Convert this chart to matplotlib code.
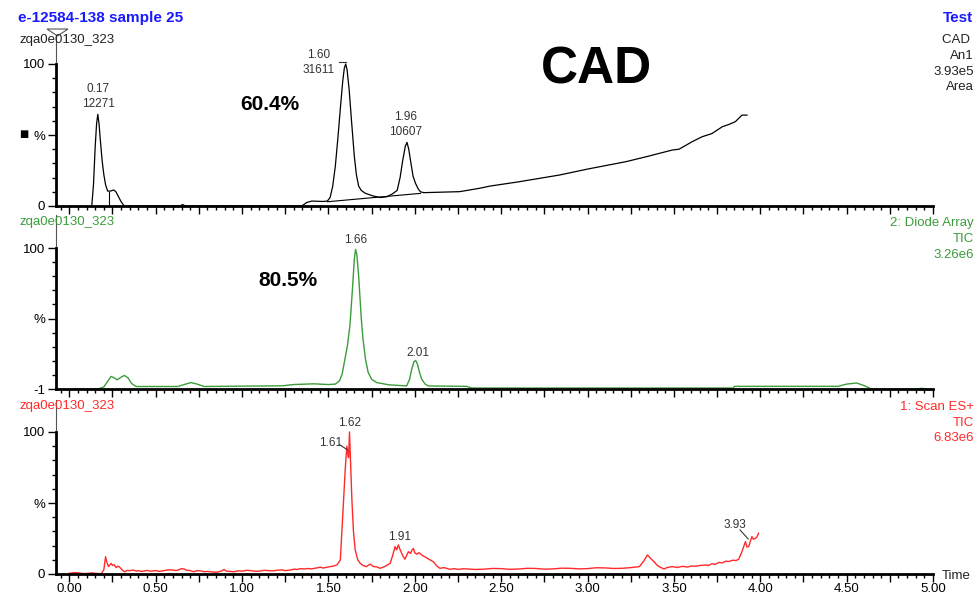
import numpy as np
import matplotlib
matplotlib.use("Agg")
import matplotlib.pyplot as plt
from matplotlib.ticker import MultipleLocator, FixedLocator, FuncFormatter
from matplotlib.patches import Polygon

plt.rcParams['font.family'] = ['Liberation Sans', 'DejaVu Sans']

# ---------------- data ----------------
# Panel 1: CAD trace (time in min, % of max)
cad_t = [0.13, 0.14, 0.15, 0.158, 0.165, 0.172, 0.18, 0.19, 0.20, 0.21, 0.222, 0.238,
         0.257, 0.27, 0.285, 0.30, 0.318,
         0.64, 0.656, 0.672, 1.345, 1.375, 1.405, 1.44, 1.47, 1.494, 1.51, 1.525, 1.54,
         1.555, 1.57, 1.583, 1.592, 1.60, 1.608, 1.62, 1.635, 1.65, 1.662, 1.675, 1.69,
         1.713, 1.76, 1.80, 1.838, 1.87, 1.898, 1.915, 1.93, 1.945, 1.955, 1.965, 1.978,
         1.99, 2.004, 2.02, 2.033, 2.052, 2.26, 2.376, 2.434, 2.60,
         2.837, 3.0, 3.222, 3.35, 3.49, 3.53, 3.606, 3.664, 3.72, 3.78, 3.82, 3.856,
         3.894, 3.923]
cad_v = [0, 15, 42, 58, 64.6, 58, 46, 32, 22, 15, 10.5, 10.5,
         11.3, 10, 6.5, 3, 0,
         0, 1, 0, 0, 2.5, 3.5, 3.3, 3.2, 3.5, 6, 14, 28,
         48, 70, 88, 97, 100, 96, 82, 58, 35, 22, 14, 11,
         9, 7, 6, 6.5, 8.5, 11, 20, 32, 42, 44.8, 40, 30,
         21, 16, 12, 10, 9.4, 10.1, 12.5, 14, 17,
         21.8, 26, 31.2, 35, 39.4, 40, 45.3, 48.8, 51, 55.8, 57.5, 59.4,
         64, 64]
# integration baselines / drop line in panel 1
cad_base_t = [1.494, 2.033]
cad_base_v = [3.0, 8.9]
cad_drop_t = [0.228, 0.228]
cad_drop_v = [0, 10]

# Panel 2: Diode Array TIC
dad_t = [0.02, 0.17, 0.20, 0.225, 0.242, 0.26, 0.277, 0.30, 0.319, 0.34, 0.36, 0.386,
         0.627, 0.66, 0.704, 0.74, 0.78, 1.232, 1.30, 1.415, 1.50, 1.54, 1.565, 1.58,
         1.595, 1.61, 1.625, 1.64, 1.65, 1.657, 1.665, 1.675, 1.69, 1.70, 1.715, 1.73,
         1.75, 1.78, 1.85, 1.953, 1.97, 1.982, 1.995, 2.005, 2.015, 2.027, 2.04, 2.06,
         2.078, 2.30, 2.33, 3.845, 3.85, 4.45, 4.50, 4.557, 4.60, 4.644, 4.90, 4.933, 4.96]
dad_v = [-1, -0.8, 0.5, 5, 8, 7, 5.6, 7.5, 8.7, 7, 3, 0.8,
         0.8, 2, 3.6, 2.5, 0.8, 1.3, 2.2, 2.7, 2.2, 2.5, 5, 10,
         20, 30, 45, 72, 92, 99, 95, 80, 50, 35, 20, 11,
         6, 3.6, 2, 1.2, 6, 13, 18.5, 19.4, 17, 11, 6, 2.5,
         1.2, 0.9, -0.3, -0.3, 0.9, 0.9, 2.5, 3.3, 1.5, -1, -1, -0.5, -1]

# Panel 3: Scan ES+ TIC
ms_t = [0.0, 0.03, 0.05, 0.08, 0.10, 0.13, 0.15, 0.185, 0.20, 0.21, 0.218, 0.227, 0.235,
        0.242, 0.25, 0.26, 0.271, 0.28, 0.29, 0.305, 0.319, 0.335, 0.348, 0.37, 0.39,
        0.40, 0.42, 0.45, 0.47, 0.50, 0.52, 0.55, 0.57, 0.60, 0.62, 0.635, 0.65, 0.665,
        0.68, 0.70, 0.72, 0.74, 0.76, 0.78, 0.80, 0.83, 0.85, 0.88, 0.896, 0.91, 0.93,
        0.953, 0.98, 1.0, 1.03, 1.05, 1.08, 1.10, 1.13, 1.15, 1.18, 1.20, 1.23, 1.25,
        1.28, 1.30, 1.32, 1.34, 1.36, 1.38, 1.40, 1.43, 1.453, 1.47, 1.50, 1.53,
        1.55, 1.569, 1.578, 1.588, 1.598, 1.607, 1.614, 1.617, 1.622, 1.628, 1.636, 1.645,
        1.655, 1.67, 1.684, 1.70, 1.72, 1.742, 1.76, 1.78, 1.80, 1.83, 1.857, 1.872, 1.886,
        1.895, 1.905, 1.912, 1.92, 1.93, 1.943, 1.953, 1.963, 1.975, 1.985, 1.992, 2.0,
        2.01, 2.025, 2.04, 2.06, 2.08, 2.107, 2.125, 2.145, 2.17, 2.203, 2.23, 2.25, 2.28,
        2.30, 2.35, 2.40, 2.45, 2.50, 2.55, 2.60, 2.65, 2.70, 2.75, 2.80, 2.85, 2.90,
        2.95, 3.00, 3.05, 3.10, 3.15, 3.20, 3.25, 3.30, 3.325, 3.347, 3.365,
        3.385, 3.40, 3.414, 3.443, 3.46, 3.49, 3.52, 3.55, 3.58, 3.60, 3.63, 3.65, 3.683,
        3.70, 3.72, 3.74, 3.76, 3.78, 3.80, 3.82, 3.84, 3.86, 3.875, 3.894, 3.914, 3.923,
        3.933, 3.945, 3.952, 3.96, 3.97, 3.98, 3.99]
ms_v = [0.5, 1.0, 0.8, 0.3, 0.3, 0.8, 0.5, 0.2, 3, 12.2, 8, 5.2, 6.5,
        7.5, 6, 6.5, 4.5, 5.5, 5, 3, 1.6, 2.5, 2.3, 2.8, 2.0,
        2.4, 1.8, 2.5, 2.0, 2.4, 1.9, 2.4, 2.9, 2.8, 2.4, 3, 3.8, 3.5,
        2.6, 2.4, 1.6, 2.4, 2.2, 1.6, 1.8, 1.4, 1.2, 2.0, 3.2, 2.0, 1.8,
        1.6, 2.3, 2.0, 2.6, 2.3, 1.9, 2.0, 2.6, 2.4, 2.2, 2.6, 2.9, 2.4,
        2.8, 3.4, 3.2, 3.8, 3.5, 3.9, 3.6, 4.2, 4.8, 4.2, 5.0, 5.6,
        6.5, 9.9, 30, 52, 75, 90, 83, 82, 100, 80, 52, 30,
        17, 10, 7.5, 6, 5.2, 7, 5.3, 5, 4, 5.5, 7.5, 13, 19.3,
        17, 20.5, 18, 15.7, 13, 10.4, 13, 15.7, 14.5, 17, 18, 15,
        14, 15, 13.4, 12, 10.5, 8.7, 6, 4, 4.5, 3.3, 3.8, 3.2, 3.7,
        3.6, 3.2, 3.4, 3.9, 3.8, 3.3, 3.5, 4.0, 3.9, 3.4, 3.6, 4.1, 4.0,
        3.6, 3.8, 4.4, 4.3, 3.9, 4.0, 4.5, 5.2, 9, 13.4, 11,
        8.7, 6.5, 5.2, 3.5, 4.5, 5.2, 4.6, 5.4, 4.9, 5.6, 5.5, 6.0, 6.3,
        6.0, 7.2, 6.8, 8.2, 7.8, 9, 8.8, 9.7, 9.5, 10.4, 15.7, 22.8, 19,
        19.3, 24, 26.3, 24.5, 25, 26, 28.7]

# peak labels
cad_labels = [("0.17", 0.167, 82.4), ("12271", 0.167, 71.8),
              ("1.60", 1.445, 106.3), ("31611", 1.445, 95.8),
              ("1.96", 1.948, 62.7), ("10607", 1.948, 52.1)]
dad_labels = [("1.66", 1.657, 105.7), ("2.01", 2.016, 24.8)]
ms_labels = [("1.62", 1.622, 106.6), ("1.61", 1.51, 92.4),
             ("1.91", 1.91, 26.1), ("3.93", 3.855, 34.6)]

xticklabels_vals = [0.0, 0.5, 1.0, 1.5, 2.0, 2.5, 3.0, 3.5, 4.0, 4.5, 5.0]

# ---------------- figure ----------------
W, H = 975, 595
fig = plt.figure(figsize=(W / 100, H / 100), dpi=100)
fig.patch.set_facecolor('white')

def fx(px):
    return px / W

def fy(py):
    return 1 - py / H

XL = (-0.077, 5.0)
ax_left = 56
ax_right = 933

def make_ax(top_px, bot_px, ylo, yhi):
    ax = fig.add_axes([fx(ax_left), fy(bot_px), (ax_right - ax_left) / W, (bot_px - top_px) / H])
    ax.set_xlim(*XL)
    ax.set_ylim(ylo, yhi)
    ax.patch.set_alpha(0)
    for s in ['top', 'right']:
        ax.spines[s].set_visible(False)
    ax.spines['left'].set_linewidth(2)
    ax.spines['bottom'].set_linewidth(2)
    ax.xaxis.set_major_locator(MultipleLocator(0.25))
    ax.xaxis.set_minor_locator(MultipleLocator(0.05))
    ax.tick_params(axis='both', which='major', direction='out', length=6, width=1, labelsize=9.5, pad=2)
    ax.tick_params(axis='both', which='minor', direction='out', length=3, width=1)
    return ax

GRAY = '#333333'
GREEN = '#3c9c3c'
RED = '#ff2a2a'

# Panel 1
ax1 = make_ax(30, 206, 0, 176 / 1.42)
ax1.plot(cad_t, cad_v, color='black', lw=0.9)
ax1.plot(cad_base_t, cad_base_v, color='black', lw=0.8)
ax1.plot(cad_drop_t, cad_drop_v, color='black', lw=0.8)
ax1.spines['left'].set_bounds(0, 100)
ax1.plot([XL[0], XL[0]], [100, 176 / 1.42 - 4], color='#555555', lw=0.8, clip_on=False)
ax1.yaxis.set_major_locator(FixedLocator([0, 50, 100]))
ax1.set_yticklabels(['0', '%', '100'])
ax1.yaxis.set_minor_locator(FixedLocator([10, 20, 30, 40, 60, 70, 80, 90]))
ax1.set_xticklabels([])
for txt, x, y in cad_labels:
    ax1.text(x, y, txt, ha='center', va='center', fontsize=8.5, color=GRAY)
ax1.plot([1.56, 1.60], [101.4, 101.4], color=GRAY, lw=0.8, clip_on=False)

# Panel 2
ytop2 = 100 + (248 - 215) / 1.396
ax2 = make_ax(215, 389, -1, ytop2)
ax2.plot(dad_t, dad_v, color=GREEN, lw=1.0)
ax2.spines['left'].set_bounds(-1, 100)
ax2.plot([XL[0], XL[0]], [100, ytop2], color='#555555', lw=0.8, clip_on=False)
ax2.yaxis.set_major_locator(FixedLocator([-1, 49.5, 100]))
ax2.set_yticklabels(['-1', '%', '100'])
ax2.yaxis.set_minor_locator(FixedLocator(list(np.linspace(-1, 100, 11)[1:-1])))
ax2.set_xticklabels([])
for txt, x, y in dad_labels:
    ax2.text(x, y, txt, ha='center', va='center', fontsize=8.5, color=GRAY)

# Panel 3
ytop3 = 100 + 32 / 1.42
ax3 = make_ax(400, 574, 0, ytop3)
ax3.plot(ms_t, ms_v, color=RED, lw=1.0)
ax3.spines['left'].set_bounds(0, 100)
ax3.plot([XL[0], XL[0]], [100, ytop3], color='#555555', lw=0.8, clip_on=False)
ax3.yaxis.set_major_locator(FixedLocator([0, 50, 100]))
ax3.set_yticklabels(['0', '%', '100'])
ax3.yaxis.set_minor_locator(FixedLocator([10, 20, 30, 40, 60, 70, 80, 90]))
ax3.xaxis.set_major_formatter(FuncFormatter(
    lambda v, p: ('%.2f' % v) if any(abs(v - q) < 1e-6 for q in xticklabels_vals) else ''))
ax3.tick_params(axis='x', which='major', labelsize=9.5, pad=0.5)
for txt, x, y in ms_labels:
    ax3.text(x, y, txt, ha='center', va='center', fontsize=8.5, color=GRAY)
ax3.plot([1.565, 1.61], [91, 87.5], color=GRAY, lw=0.8)
ax3.plot([3.883, 3.93], [31, 24.7], color=GRAY, lw=0.8)

# ---------------- header and side texts ----------------
BLUE = '#1a1aff'
fig.text(fx(18), fy(18), 'e-12584-138 sample 25', color=BLUE, fontsize=11, fontweight='bold', va='center', ha='left')
fig.text(fx(973), fy(18), 'Test', color=BLUE, fontsize=11, fontweight='bold', va='center', ha='right')
fig.text(fx(20), fy(40), 'zqa0e0130_323', color='#222222', fontsize=9.5, va='center', ha='left')
fig.text(fx(20), fy(222), 'zqa0e0130_323', color=GREEN, fontsize=9.5, va='center', ha='left')
fig.text(fx(20), fy(406), 'zqa0e0130_323', color=RED, fontsize=9.5, va='center', ha='left')

for txt, py in [('CAD ', 40), ('An1', 56), ('3.93e5', 72), ('Area', 87)]:
    fig.text(fx(974), fy(py), txt, color='#222222', fontsize=9.5, va='center', ha='right')
for txt, py in [('2: Diode Array', 223), ('TIC', 239), ('3.26e6', 255)]:
    fig.text(fx(974), fy(py), txt, color=GREEN, fontsize=9.5, va='center', ha='right')
for txt, py in [('1: Scan ES+', 407), ('TIC', 423), ('6.83e6', 438)]:
    fig.text(fx(974), fy(py), txt, color=RED, fontsize=9.5, va='center', ha='right')
fig.text(fx(942), fy(576), 'Time', color='#222222', fontsize=9.5, va='center', ha='left')

fig.text(fx(596), fy(70), 'CAD', color='black', fontsize=37, fontweight='bold', va='center', ha='center')
fig.text(fx(270), fy(105), '60.4%', color='black', fontsize=15, fontweight='bold', va='center', ha='center')
fig.text(fx(288), fy(281), '80.5%', color='black', fontsize=15, fontweight='bold', va='center', ha='center')
fig.text(fx(24), fy(134), '\u25a0', color='black', fontsize=7, va='center', ha='center',
         family=['DejaVu Sans'])

# triangle marker at top of first y axis
tri = Polygon([(fx(47), fy(29)), (fx(68), fy(29)), (fx(57.5), fy(36))], closed=True,
              fill=False, edgecolor='#555555', lw=0.8, transform=fig.transFigure)
fig.patches.append(tri)

fig.savefig('out.png', dpi=100, facecolor='white')
